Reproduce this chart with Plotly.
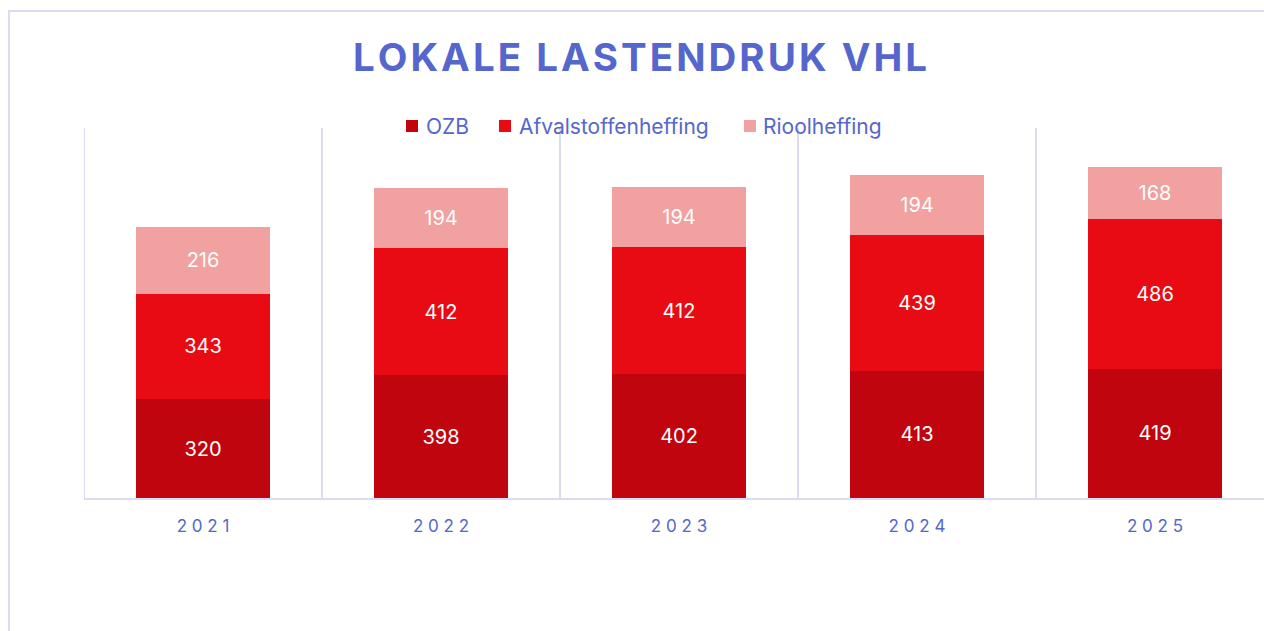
import plotly.graph_objects as go

years = ["2021", "2022", "2023", "2024", "2025"]
ozb = [320, 398, 402, 413, 419]
afval = [343, 412, 412, 439, 486]
riool = [216, 194, 194, 194, 168]

series = [
    ("OZB", ozb, "#C0050E"),
    ("Afvalstoffenheffing", afval, "#E90B14"),
    ("Rioolheffing", riool, "#F1A1A0"),
]

BLUE = "#5566CC"
GRID = "#D9DCF2"
FONT = "Inter, Open Sans, sans-serif"

W, H = 1264, 631
ML, MT, MB = 84, 128, 133
PW, PH = W - ML, H - MT - MB


def fx(px):  # page x pixel -> plot-area fraction
    return (px - ML) / PW


def fy(py):  # page y pixel -> plot-area fraction
    return (H - MB - py) / PH


fig = go.Figure()
for name, vals, color in series:
    fig.add_trace(go.Bar(
        x=list(range(len(years))), y=vals, name=name,
        marker=dict(color=color, line=dict(width=0)),
        text=[str(v) for v in vals], textposition="inside",
        insidetextanchor="middle",
        textfont=dict(color="white", size=20, family=FONT),
        showlegend=False,
    ))

spaced = [" ".join(list(y)) for y in years]

fig.update_layout(
    width=W, height=H,
    barmode="stack", bargap=0.44,
    paper_bgcolor="white", plot_bgcolor="white",
    margin=dict(l=ML, r=0, t=MT, b=MB, pad=0),
    title=dict(text="\u200a".join(list("LOKALE LASTENDRUK VHL")),
               x=fx(640), xref="paper", xanchor="center",
               y=1 - 58 / H, yanchor="middle",
               font=dict(family=FONT, size=38.5, color=BLUE, weight="bold")),
    showlegend=False,
    xaxis=dict(tickmode="array", tickvals=list(range(len(years))), ticktext=spaced,
               range=[-0.5, -0.5 + PW / 238], showgrid=False, zeroline=False,
               showline=True, linecolor=GRID, linewidth=2,
               tickfont=dict(family=FONT, size=17, color=BLUE), ticks="",
               ticklabelstandoff=12),
    yaxis=dict(range=[0, 1200], visible=False),
)

# Category boundary grid lines
for b in [-0.5, 0.5, 1.5, 2.5, 3.5]:
    fig.add_shape(type="line", xref="x", yref="y", x0=b, x1=b, y0=0, y1=1200,
                  line=dict(color=GRID, width=2), layer="below")

# Outer chart frame
fig.add_shape(type="rect", xref="paper", yref="paper",
              x0=fx(9), x1=fx(1300), y0=fy(700), y1=fy(11),
              line=dict(color=GRID, width=2), layer="below")

# Custom legend (squares + labels)
legend_pos = [(406, 425), (499, 518), (744, 762)]
for (name, _, color), (sx, tx) in zip(series, legend_pos):
    fig.add_shape(type="rect", xref="paper", yref="paper",
                  x0=fx(sx), x1=fx(sx + 12), y0=fy(132), y1=fy(120),
                  fillcolor=color, line=dict(width=0))
    fig.add_annotation(text=name, xref="paper", yref="paper",
                       x=fx(tx - 1), y=fy(126), xanchor="left", yanchor="middle",
                       showarrow=False,
                       font=dict(family=FONT, size=21, color=BLUE))

fig.write_html(
    "out.html",
    config={"displayModeBar": False},
    post_script="document.body.style.margin='0';document.body.style.overflow='hidden';",
)
